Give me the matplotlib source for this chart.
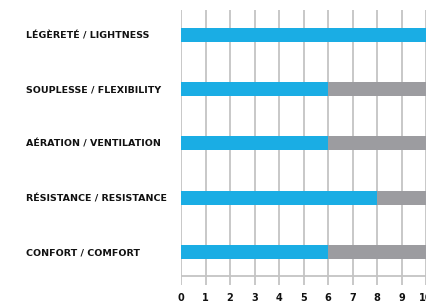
import matplotlib
matplotlib.use("Agg")
import matplotlib.pyplot as plt
from matplotlib import font_manager

categories = ["LÉGÈRETÉ / LIGHTNESS", "SOUPLESSE / FLEXIBILITY", "AÉRATION / VENTILATION",
              "RÉSISTANCE / RESISTANCE", "CONFORT / COMFORT"]
scores = [10, 6, 6, 8, 6]
max_score = 10
ticks = list(range(0, 11))

blue = "#1aade4"
grey = "#9c9ca0"
gridc = "#c4c4c4"

# pick a condensed bold face if there is one
names = {f.name for f in font_manager.fontManager.ttflist}
fam = "DejaVu Sans"
for cand in ["DejaVu Sans Condensed", "Liberation Sans Narrow"]:
    if cand in names:
        fam = cand
        break

fig = plt.figure(figsize=(4.27, 3.06), dpi=100)
ax = fig.add_axes([181/427, 21/306, 245/427, 275/306])

n = len(categories)
ypos = [n - 1 - i for i in range(n)]

for x in ticks:
    ax.axvline(x, color=gridc, lw=1.3, zorder=0)
ax.axhline(-0.442, color=gridc, lw=1.3, zorder=0)

h = 0.258
ax.barh(ypos, [max_score] * n, height=h, color=grey, zorder=2)
ax.barh(ypos, scores, height=h, color=blue, zorder=3)

ax.set_xlim(0, 10)
ax.set_ylim(-0.608, 4.46)
for s in ax.spines.values():
    s.set_visible(False)

ax.set_yticks(ypos)
ax.set_yticklabels(categories, fontfamily=fam, fontweight="bold", fontsize=6.8,
                   ha="left", color="#111111")
ax.tick_params(axis="y", length=0, pad=111.6)
ax.set_xticks(ticks)
ax.set_xticklabels([str(t) for t in ticks], fontfamily=fam, fontweight="bold",
                   fontsize=7, color="#111111")
ax.tick_params(axis="x", length=0, pad=6)

fig.savefig("out.png", dpi=100)
